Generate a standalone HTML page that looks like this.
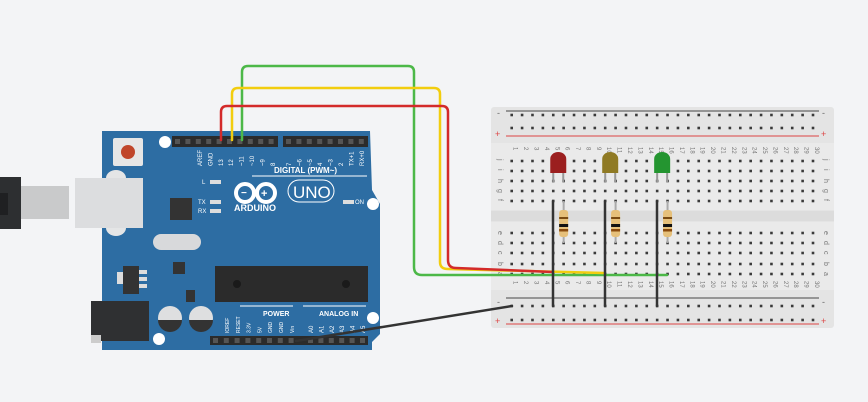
<!DOCTYPE html>
<html><head><meta charset="utf-8"><style>
html,body{margin:0;padding:0;background:#f3f4f6;width:868px;height:402px;overflow:hidden}
svg{display:block}
text{font-family:"Liberation Sans",sans-serif}
</style></head><body>
<svg id="s" width="868" height="402" viewBox="0 0 868 402" xmlns="http://www.w3.org/2000/svg">
<!-- USB cable -->
<rect x="0" y="177" width="21" height="52" fill="#2d2f31"/>
<rect x="0" y="193" width="8" height="22" fill="#1f2022"/>
<rect x="21" y="186" width="48" height="33" fill="#c9cacb"/>
<!-- Arduino board -->
<polygon points="102,131 370,131 372,190 380,204 380,334 372,342 372,350 102,350" fill="#2d6da3"/>
<!-- USB port -->
<ellipse cx="116" cy="178" rx="10" ry="8" fill="#e4e5e6"/>
<ellipse cx="116" cy="228" rx="10" ry="8" fill="#e4e5e6"/>
<rect x="75" y="178" width="68" height="50" fill="#dcdddf"/>
<!-- reset -->
<rect x="113" y="138" width="30" height="28" rx="2" fill="#e6e6e6"/>
<circle cx="128" cy="152" r="7" fill="#c0462a"/>
<circle cx="165" cy="142" r="6" fill="#fff"/>
<circle cx="373" cy="204" r="6" fill="#fff"/>
<circle cx="373" cy="318" r="6" fill="#fff"/>
<circle cx="159" cy="339" r="6" fill="#fff"/>
<!-- chips -->
<rect x="170" y="198" width="22" height="22" fill="#333"/>
<rect x="153" y="234" width="48" height="16" rx="8" fill="#d8d9db"/>
<rect x="173" y="262" width="12" height="12" fill="#333"/>
<rect x="117" y="272" width="10" height="12" fill="#ddd"/>
<rect x="123" y="266" width="16" height="28" fill="#333"/>
<rect x="139" y="270" width="8" height="4" fill="#ddd"/><rect x="139" y="277" width="8" height="4" fill="#ddd"/><rect x="139" y="284" width="8" height="4" fill="#ddd"/>
<rect x="186" y="290" width="9" height="12" fill="#333"/>
<rect x="215" y="266" width="153" height="36" fill="#2b2b2b"/>
<circle cx="237" cy="284" r="4" fill="#1a1a1a"/><circle cx="346" cy="284" r="4" fill="#1a1a1a"/>
<!-- power jack -->
<rect x="91" y="301" width="58" height="40" fill="#2f3032"/>
<rect x="91" y="335" width="10" height="8" fill="#ccc"/>
<!-- caps -->
<circle cx="170" cy="318" r="12" fill="#dedfe0"/><path d="M158,320 A12,12 0 0 0 182,320 Z" fill="#333"/>
<circle cx="201" cy="318" r="12" fill="#dedfe0"/><path d="M189,320 A12,12 0 0 0 213,320 Z" fill="#333"/>
<!-- headers -->
<rect x="172" y="136" width="106" height="11" fill="#2b2b2b"/>
<rect x="283" y="136" width="85" height="11" fill="#2b2b2b"/>
<rect x="210" y="336" width="95" height="9" fill="#2b2b2b"/>
<rect x="305" y="336" width="63" height="9" fill="#2b2b2b"/>
<g id="hdr"></g>
<!-- labels -->
<line x1="252" y1="176" x2="367" y2="176" stroke="#fff" stroke-width="1"/>
<text x="274" y="173" font-size="8" font-weight="bold" fill="#fff">DIGITAL (PWM~)</text>
<text x="234" y="211" font-size="9" font-weight="bold" fill="#fff">ARDUINO</text>
<circle cx="245" cy="193" r="9" fill="none" stroke="#fff" stroke-width="4"/>
<circle cx="266" cy="193" r="9" fill="none" stroke="#fff" stroke-width="4"/>
<text x="241" y="196" font-size="10" font-weight="bold" fill="#fff">−</text>
<text x="261" y="197" font-size="11" font-weight="bold" fill="#fff">+</text>
<rect x="288" y="180" width="46" height="22" rx="11" fill="none" stroke="#fff" stroke-width="1"/>
<text x="293" y="198" font-size="17" fill="#fff">UNO</text>
<text x="202" y="184" font-size="6" fill="#fff">L</text>
<text x="198" y="204" font-size="6" fill="#fff">TX</text>
<text x="198" y="213" font-size="6" fill="#fff">RX</text>
<rect x="210" y="180" width="11" height="4" fill="#ddd"/>
<rect x="210" y="200" width="11" height="4" fill="#ddd"/>
<rect x="210" y="209" width="11" height="4" fill="#ddd"/>
<rect x="343" y="200" width="11" height="4" fill="#ddd"/>
<text x="355" y="204" font-size="6" fill="#fff">ON</text>
<line x1="240" y1="306" x2="293" y2="306" stroke="#fff"/>
<line x1="303" y1="306" x2="366" y2="306" stroke="#fff"/>
<text x="263" y="316" font-size="7" font-weight="bold" fill="#fff">POWER</text>
<text x="319" y="316" font-size="7" font-weight="bold" fill="#fff">ANALOG IN</text>
<g id="vl" font-size="6" fill="#fff"></g>
<!-- breadboard -->
<rect x="491" y="107" width="343" height="221" rx="3" fill="#e4e4e4"/>
<rect x="491" y="143" width="343" height="67" fill="#eaeaea"/>
<rect x="491" y="211" width="343" height="10" fill="#dcdcdc"/>
<rect x="491" y="222" width="343" height="68" fill="#eaeaea"/>
<line x1="506" y1="111" x2="819" y2="111" stroke="#444" stroke-width="1"/>
<line x1="506" y1="136" x2="819" y2="136" stroke="#d44" stroke-width="1"/>
<line x1="506" y1="298" x2="819" y2="298" stroke="#666" stroke-width="1.2"/>
<line x1="506" y1="324" x2="819" y2="324" stroke="#d44" stroke-width="1"/>
<text x="497" y="116" font-size="9" fill="#666">-</text><text x="822" y="116" font-size="9" fill="#666">-</text>
<text x="495" y="137" font-size="9" fill="#d44">+</text><text x="821" y="137" font-size="9" fill="#d44">+</text>
<text x="497" y="305" font-size="9" fill="#666">-</text><text x="822" y="305" font-size="9" fill="#666">-</text>
<text x="495" y="324" font-size="9" fill="#d44">+</text><text x="821" y="324" font-size="9" fill="#d44">+</text>
<g id="bb"></g>
<!-- wires -->
<g fill="none" stroke-linecap="round" stroke-linejoin="round">
<path d="M242,140 V72 Q242,66 248,66 H408 Q414,66 414,72 V267 Q414,275 422,275 H667" stroke="#4cb848" stroke-width="2.5"/>
<path d="M232,140 V94 Q232,88 238,88 H434 Q440,88 440,94 V262 Q440,269 448,269 L604,273" stroke="#f2cd0e" stroke-width="2.5"/>
<path d="M221,140 V112 Q221,106 227,106 H442 Q448,106 448,112 V260 Q448,268 456,268 L553,272" stroke="#d32a2a" stroke-width="2.5"/>
<path d="M296,341 L512,306" stroke="#333" stroke-width="2.5"/>
<path d="M553,201 V306 M605,201 V306 M657,201 V306" stroke="#333" stroke-width="2.5"/>
</g>
<g id="parts"></g>
</svg>
<script>
var NS="http://www.w3.org/2000/svg";
function el(p,t,a,txt){var e=document.createElementNS(NS,t);for(var k in a)e.setAttribute(k,a[k]);if(txt!=null)e.textContent=txt;document.getElementById(p).appendChild(e);return e;}
var cx=function(c){return 511.7+(c-1)*10.39;};
var rows=[161,171,181,191,201,233,243,253,264,274];
var rl=['j','i','h','g','f','e','d','c','b','a'];
for(var c=1;c<=30;c++){
 for(var r=0;r<10;r++) el('bb','rect',{x:cx(c)-1.3,y:rows[r]-1.3,width:2.6,height:2.6,fill:'#3a3a3a'});
 [115,128,306,320].forEach(function(y){el('bb','rect',{x:cx(c)-1.3,y:y-1.3,width:2.6,height:2.6,fill:'#3a3a3a'});});
 el('bb','text',{x:0,y:0,'font-size':6,fill:'#777',transform:'translate('+(cx(c)+2)+',147) rotate(90)'},String(c));
 el('bb','text',{x:0,y:0,'font-size':6,fill:'#777',transform:'translate('+(cx(c)+2)+',281) rotate(90)'},String(c));
}
for(var r=0;r<10;r++){
 el('bb','text',{x:0,y:0,'font-size':7,fill:'#777',transform:'translate(498,'+(rows[r]-2)+') rotate(90)'},rl[r]);
 el('bb','text',{x:0,y:0,'font-size':7,fill:'#777',transform:'translate(824,'+(rows[r]-2)+') rotate(90)'},rl[r]);
}
for(var i=0;i<10;i++) el('hdr','rect',{x:175+i*10.4,y:139,width:5,height:5,fill:'#555'});
for(var i=0;i<8;i++) el('hdr','rect',{x:286+i*10.4,y:139,width:5,height:5,fill:'#555'});
for(var i=0;i<8;i++) el('hdr','rect',{x:213+i*10.8,y:338,width:5,height:5,fill:'#555'});
for(var i=0;i<6;i++) el('hdr','rect',{x:308+i*10.4,y:338,width:5,height:5,fill:'#555'});
var dl=['AREF','GND','13','12','~11','~10','~9','8'];
dl.forEach(function(t,i){el('vl','text',{transform:'translate('+(202+i*10.4)+',166) rotate(-90)'},t);});
var d2=['7','~6','~5','4','~3','2','TX+1','RX+0'];
d2.forEach(function(t,i){el('vl','text',{transform:'translate('+(291+i*10.4)+',166) rotate(-90)'},t);});
var p=['IOREF','RESET','3.3V','5V','GND','GND','Vin'];
p.forEach(function(t,i){el('vl','text',{transform:'translate('+(229+i*10.8)+',333) rotate(-90)','font-size':5},t);});
var a=['A0','A1','A2','A3','A4','A5'];
a.forEach(function(t,i){el('vl','text',{transform:'translate('+(313+i*10.4)+',333) rotate(-90)'},t);});
[[5,'#9b1f1f'],[10,'#8f7a24'],[15,'#249530']].forEach(function(L){
 var x=cx(L[0]);
 el('parts','line',{x1:x,y1:170,x2:x,y2:182,stroke:'#999','stroke-width':2});
 el('parts','line',{x1:x+10,y1:170,x2:x+10,y2:182,stroke:'#999','stroke-width':2});
 el('parts','path',{d:'M'+(x-3)+',173 V159 a8,7 0 0 1 16,0 V173 Z',fill:L[1]});
 var rx=cx(L[0]+1);
 el('parts','line',{x1:rx,y1:201,x2:rx,y2:243,stroke:'#aaa','stroke-width':2});
 el('parts','rect',{x:rx-4.5,y:210,width:9,height:27,rx:3,fill:'#e6c07a'});
 el('parts','rect',{x:rx-4.5,y:217,width:9,height:2,fill:'#7a4b12'});
 el('parts','rect',{x:rx-4.5,y:224,width:9,height:3,fill:'#111'});
 el('parts','rect',{x:rx-4.5,y:229,width:9,height:2.5,fill:'#8a4b0e'});
});
</script>
</body></html>
